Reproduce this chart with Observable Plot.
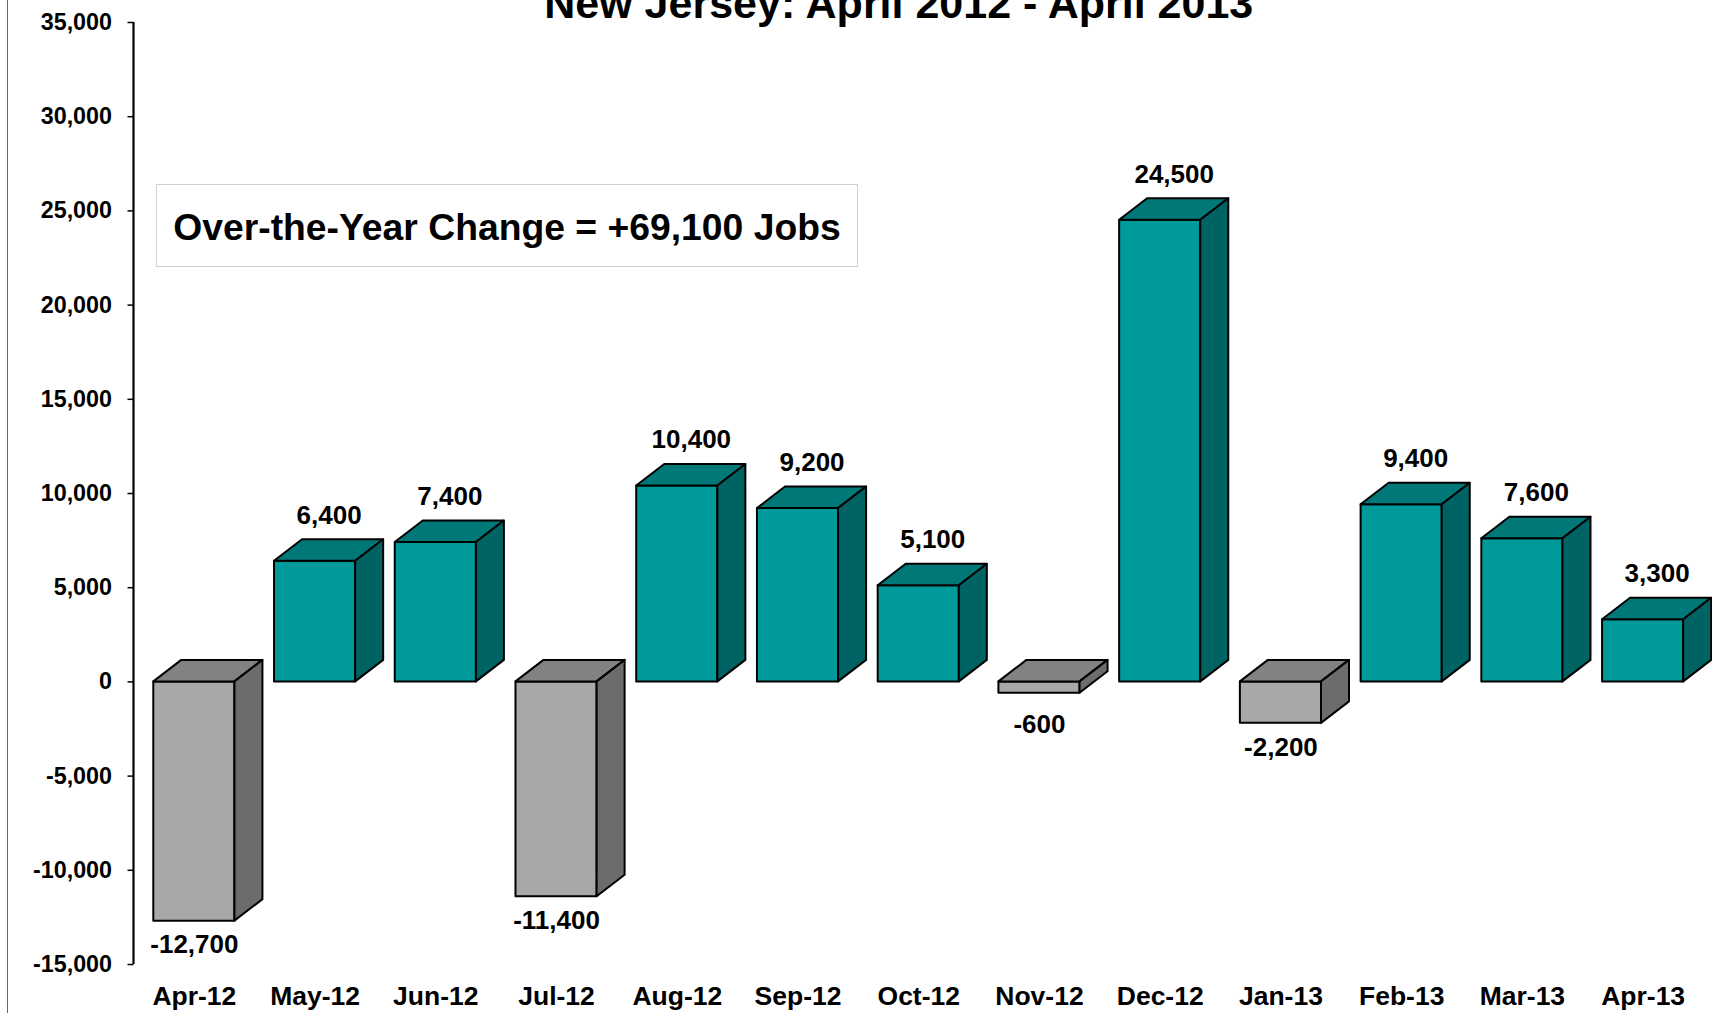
<!DOCTYPE html>
<html>
<head>
<meta charset="utf-8">
<script src="https://cdn.jsdelivr.net/npm/d3@7"></script>
<script src="https://cdn.jsdelivr.net/npm/@observablehq/plot@0.6"></script>
<style>
  html, body { margin: 0; padding: 0; background: #fff; }
  #wrap { position: relative; width: 1712px; height: 1013px; overflow: hidden; background: #fff; }
  #edge { position: absolute; left: 7px; top: 0; width: 1px; height: 1013px; background: #666; }
  #note { position: absolute; left: 156px; top: 184px; width: 702px; height: 83px; box-sizing: border-box;
          border: 1.5px solid #d0d0d0; background: #fff; display: flex; align-items: center; justify-content: center;
          font-family: Arial, "Liberation Sans", sans-serif; font-weight: bold; font-size: 37.3px; color: #000; padding-top: 4px; }
</style>
</head>
<body>
<div id="wrap"><div id="edge"></div></div>
<script>
const title = "New Jersey: April 2012 - April 2013";
const note = "Over-the-Year Change = +69,100 Jobs";
const months = ["Apr-12","May-12","Jun-12","Jul-12","Aug-12","Sep-12","Oct-12","Nov-12","Dec-12","Jan-13","Feb-13","Mar-13","Apr-13"];
const changes = [-12700, 6400, 7400, -11400, 10400, 9200, 5100, -600, 24500, -2200, 9400, 7600, 3300];
const yTicks = [-15000, -10000, -5000, 0, 5000, 10000, 15000, 20000, 25000, 30000, 35000];

const colors = {
  pos: {front: "#009a9a", top: "#007878", side: "#006363"},
  neg: {front: "#a8a8a8", top: "#828282", side: "#6c6c6c"}
};

const data = months.map((m, i) => ({month: m, value: changes[i]}));
const fmt = v => (v < 0 ? "-" : "") + d3.format(",")(Math.abs(v));

function bars3d(index, scales, values, dimensions) {
  const x = scales.x, y = scales.y;
  const bw = typeof x.bandwidth === "function" ? x.bandwidth() : x.bandwidth;
  const fw = bw * 0.672, ddx = 28, ddy = 21.5;
  const g = d3.create("svg:g");
  // y axis line
  g.append("line")
    .attr("x1", dimensions.marginLeft).attr("x2", dimensions.marginLeft)
    .attr("y1", y(yTicks[yTicks.length - 1])).attr("y2", y(yTicks[0]))
    .attr("stroke", "#000").attr("stroke-width", 2.2);
  for (const d of data) {
    const c = d.value >= 0 ? colors.pos : colors.neg;
    const cx = x(d.month) + bw / 2;
    const x0 = cx - fw / 2, x1 = cx + fw / 2;
    const yt = y(Math.max(d.value, 0)), yb = y(Math.min(d.value, 0));
    const bar = g.append("g").attr("stroke", "#000").attr("stroke-width", 2).attr("stroke-linejoin", "round");
    bar.append("path").attr("fill", c.front)
      .attr("d", `M${x0},${yt}H${x1}V${yb}H${x0}Z`);
    bar.append("path").attr("fill", c.top)
      .attr("d", `M${x0},${yt}L${x0 + ddx},${yt - ddy}H${x1 + ddx}L${x1},${yt}Z`);
    bar.append("path").attr("fill", c.side)
      .attr("d", `M${x1},${yt}L${x1 + ddx},${yt - ddy}V${yb - ddy}L${x1},${yb}Z`);
  }
  return g.node();
}

const chart = Plot.plot({
  width: 1712,
  height: 1013,
  marginTop: 22,
  marginBottom: 49,
  marginLeft: 133.5,
  marginRight: 9,
  style: {fontFamily: "Arial, 'Liberation Sans', sans-serif", fontWeight: "bold", color: "#000", background: "transparent", overflow: "visible"},
  x: {type: "band", domain: months, padding: 0, round: false, label: null},
  y: {domain: [yTicks[0], yTicks[yTicks.length - 1]], label: null},
  marks: [
    Plot.axisY({ticks: yTicks, tickFormat: fmt, tickSize: 6, tickPadding: 16, fontSize: 23.3, strokeWidth: 1.5, label: null}),
    Plot.axisX({tickSize: 0, tickPadding: 22, fontSize: 26.5, label: null}),
    bars3d,
    Plot.text(data.filter(d => d.value >= 0), {x: "month", y: "value", text: d => fmt(d.value), dx: 14, dy: -46, fontSize: 26}),
    Plot.text(data.filter(d => d.value < 0), {x: "month", y: d => Math.min(d.value, -1000), text: d => fmt(d.value), dy: 24, fontSize: 26}),
    Plot.text([title], {frameAnchor: "top", lineAnchor: "middle", dx: -20, dy: -18, fontSize: 43})
  ]
});

const wrap = document.getElementById("wrap");
wrap.insertBefore(chart, wrap.firstChild);
chart.style.position = "absolute";
chart.style.left = "0";
chart.style.top = "0";
const n = document.createElement("div");
n.id = "note";
n.textContent = note;
wrap.appendChild(n);
</script>
</body>
</html>
